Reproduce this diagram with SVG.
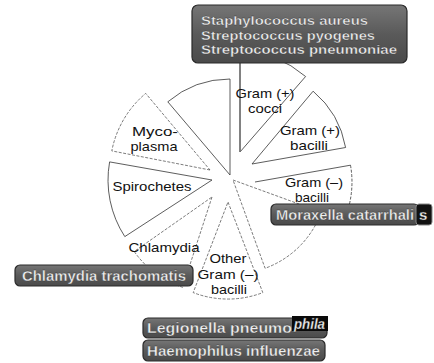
<svg xmlns="http://www.w3.org/2000/svg" width="434" height="363" viewBox="0 0 434 363">
<defs>
<linearGradient id="boxg" x1="0" y1="0" x2="0" y2="1">
<stop offset="0" stop-color="#767676"/>
<stop offset="0.5" stop-color="#5a5a5a"/>
<stop offset="1" stop-color="#4a4a4a"/>
</linearGradient>
<style>
.sec{fill:#fff;stroke:#333;stroke-width:0.8}
.dash{fill:#fff;stroke:#444;stroke-width:0.7;stroke-dasharray:3 1.5}
.open{fill:none;stroke:#333;stroke-width:0.8}
.lbl{font-family:"Liberation Sans",Arial,sans-serif;font-size:13.5px;fill:#111;text-anchor:middle}
.box{fill:url(#boxg);stroke:#2a2a2a;stroke-width:1.2}
.btx{font-family:"Liberation Sans",Arial,sans-serif;font-size:15px;font-weight:bold;fill:#eeeeee;stroke:#333;stroke-width:0.3}
.btx13{font-family:"Liberation Sans",Arial,sans-serif;font-size:13px;font-weight:bold;fill:#eeeeee;stroke:#333;stroke-width:0.3}
</style>
</defs>
<rect width="434" height="363" fill="#fff"/>

<g id="sector-blank">
<path class="sec" d="M230,175 L167.8,101.8 A96,96 0 0,1 230,79 Z" stroke="#555" stroke-width="0.6"/>
</g>

<g id="sector-mycoplasma">
<path class="dash" d="M210,170 L111.8,150.9 A100,100 0 0,1 145.7,93.4 Z"/>
<text class="lbl" x="155" y="136" textLength="46" lengthAdjust="spacingAndGlyphs">Myco-</text>
<text class="lbl" x="154" y="151" textLength="47" lengthAdjust="spacingAndGlyphs">plasma</text>
</g>

<g id="sector-spirochetes">
<path class="sec" d="M212,180 L124.8,236.6 A104,104 0 0,1 109.6,161.9 Z"/>
<text class="lbl" x="152" y="191" textLength="79" lengthAdjust="spacingAndGlyphs">Spirochetes</text>
</g>

<g id="sector-chlamydia">
<path class="dash" d="M212,197 L182.6,287.3 A95,95 0 0,1 134.2,251.5 Z"/>
<text class="lbl" x="164" y="252" textLength="71" lengthAdjust="spacingAndGlyphs">Chlamydia</text>
</g>

<g id="sector-other-gram-neg">
<path class="dash" d="M228,202 L262.8,292.6 A97,97 0 0,1 193.2,292.6 Z"/>
<text class="lbl" x="228" y="263" textLength="37" lengthAdjust="spacingAndGlyphs">Other</text>
<text class="lbl" x="228" y="278.5" textLength="61" lengthAdjust="spacingAndGlyphs">Gram (–)</text>
<text class="lbl" x="229" y="294" textLength="36" lengthAdjust="spacingAndGlyphs">bacilli</text>
</g>

<g id="sector-unlabeled">
<path class="dash" d="M233,180 L321.3,212.1 A94,94 0 0,1 265.1,268.3 Z"/>
</g>

<g id="sector-gram-neg-bacilli">
<path class="open" d="M255,182 L350.5,165.2"/>
<path class="open" d="M350.5,165.2 A97,97 0 0,1 349.1,205.5" stroke-dasharray="3 1.5"/>
<text class="lbl" x="314" y="187" textLength="58" lengthAdjust="spacingAndGlyphs">Gram (–)</text>
<text class="lbl" x="312" y="202" textLength="34" lengthAdjust="spacingAndGlyphs">bacilli</text>
</g>

<g id="sector-gram-pos-bacilli">
<path class="sec" d="M252,164 L313.1,91.2 A95,95 0 0,1 345.6,147.5 Z"/>
<text class="lbl" x="310" y="135" textLength="60" lengthAdjust="spacingAndGlyphs">Gram (+)</text>
<text class="lbl" x="309" y="150" textLength="38" lengthAdjust="spacingAndGlyphs">bacilli</text>
</g>

<g id="sector-gram-pos-cocci">
<path class="sec" d="M240,152 L240,52 A100,100 0 0,1 305.6,76.5 Z"/>
<path d="M240,60 L240,152" stroke="#777" stroke-width="1.6" fill="none"/>
<text class="lbl" x="265" y="98" textLength="59" lengthAdjust="spacingAndGlyphs">Gram (+)</text>
<text class="lbl" x="265" y="113" textLength="34" lengthAdjust="spacingAndGlyphs">cocci</text>
</g>

<g id="connectors"></g>

<g id="box-gram-pos-cocci">
<rect class="box" x="192" y="5" width="215" height="58" rx="6"/>
<text class="btx13" x="201" y="25" textLength="167" lengthAdjust="spacingAndGlyphs">Staphylococcus aureus</text>
<text class="btx13" x="201" y="39.5" textLength="174" lengthAdjust="spacingAndGlyphs">Streptococcus pyogenes</text>
<text class="btx13" x="201" y="54" textLength="196" lengthAdjust="spacingAndGlyphs">Streptococcus pneumoniae</text>
</g>

<g id="box-moraxella">
<rect class="box" x="271" y="204" width="148" height="21" rx="5"/>
<text class="btx" x="276" y="220" textLength="138" lengthAdjust="spacingAndGlyphs">Moraxella catarrhali</text>
<rect x="416" y="204" width="16" height="21" rx="3" fill="#111" stroke="#888" stroke-width="1"/>
<text class="btx" x="419" y="220" fill="#fff">s</text>
</g>

<g id="box-chlamydia">
<rect class="box" x="15" y="265" width="178" height="21" rx="5"/>
<text class="btx" x="22" y="281" textLength="164" lengthAdjust="spacingAndGlyphs">Chlamydia trachomatis</text>
</g>

<g id="box-legionella">
<rect class="box" x="143" y="318" width="184" height="20" rx="5"/>
<rect x="292" y="316" width="36" height="15" fill="#0a0a0a"/>
<text class="btx" x="147" y="333" textLength="145" lengthAdjust="spacingAndGlyphs">Legionella pneumo</text>
<text class="btx" x="294" y="329" font-style="italic" fill="#fff" font-size="13" textLength="31" lengthAdjust="spacingAndGlyphs">phila</text>
</g>

<g id="box-haemophilus">
<rect class="box" x="143" y="340" width="182" height="21" rx="5"/>
<text class="btx" x="147" y="356" textLength="173" lengthAdjust="spacingAndGlyphs">Haemophilus influenzae</text>
</g>
</svg>
